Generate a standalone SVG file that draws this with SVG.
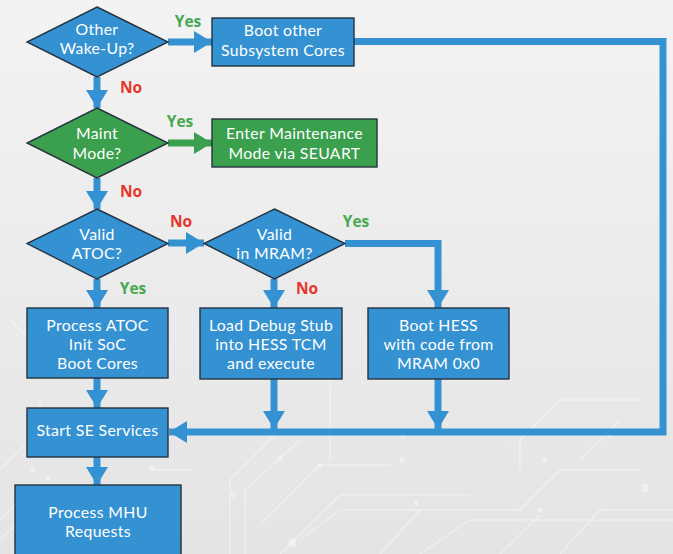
<svg xmlns="http://www.w3.org/2000/svg" width="673" height="554" viewBox="0 0 673 554">
  <defs>
    <linearGradient id="bg" x1="0" y1="0" x2="0" y2="1">
      <stop offset="0" stop-color="#f3f3f3"/>
      <stop offset="1" stop-color="#e4e4e4"/>
    </linearGradient>
    <marker id="headBlue" markerUnits="userSpaceOnUse" markerWidth="20" markerHeight="22" refX="18" refY="11" orient="auto">
      <path d="M0,0 L18,11 L0,22 Z" fill="#3592d2"/>
    </marker>
    <marker id="headGreen" markerUnits="userSpaceOnUse" markerWidth="20" markerHeight="22" refX="18" refY="11" orient="auto">
      <path d="M0,0 L18,11 L0,22 Z" fill="#3aa04e"/>
    </marker>
    <style>
      .blue { fill: #3592d2; stroke: #26333f; stroke-width: 1.4; }
      .green { fill: #3aa04e; stroke: #26333f; stroke-width: 1.4; }
      .txt { font-family: Lato, "Open Sans", sans-serif; font-size: 15.8px; letter-spacing: 0.35px; fill: #ffffff; text-anchor: middle; }
      .wire { fill: none; stroke: #3592d2; stroke-width: 7; marker-end: url(#headBlue); }
      .wireG { fill: none; stroke: #3aa04e; stroke-width: 7; marker-end: url(#headGreen); }
      .yes { font-family: "Open Sans", "Liberation Sans", sans-serif; font-weight: 700; font-size: 15.5px; fill: #4aa852; text-anchor: middle; }
      .no { font-family: "Open Sans", "Liberation Sans", sans-serif; font-weight: 700; font-size: 15.5px; fill: #e8352b; text-anchor: middle; }
      .trace { fill: none; stroke: #ffffff; stroke-opacity: 0.38; stroke-width: 1.5; }
      .pad { fill: #ffffff; fill-opacity: 0.4; }
    </style>
  </defs>

  <rect width="673" height="554" fill="url(#bg)"/>

  <!-- faint circuit traces in the background -->
  <g id="backdrop">
    <path class="trace" d="M0,470 L40,430 L40,400"/>
    <path class="trace" d="M230,554 L230,480 L280,430 L330,430"/>
    <path class="trace" d="M245,554 L245,490 L300,440"/>
    <path class="trace" d="M260,525 L320,465 L390,465"/>
    <path class="trace" d="M280,554 L340,495 L470,495"/>
    <path class="trace" d="M300,540 L340,510 L520,510 L560,470 L640,470"/>
    <path class="trace" d="M380,554 L420,510"/>
    <path class="trace" d="M420,554 L470,520 L673,520"/>
    <path class="trace" d="M500,554 L540,515"/>
    <path class="trace" d="M560,554 L600,510 L673,510"/>
    <path class="trace" d="M330,460 L330,380"/>
    <path class="trace" d="M520,470 L520,440 L560,400 L640,400"/>
    <path class="trace" d="M580,460 L620,420"/>
    <path class="trace" d="M0,520 L30,490"/>
    <path class="trace" d="M0,540 L20,520"/>
    <path class="trace" d="M150,470 L190,470"/>
    <path class="trace" d="M30,370 L30,340 L10,320"/>
    <circle class="pad" cx="280" cy="458" r="2.5"/>
    <circle class="pad" cx="233" cy="495" r="2.5"/>
    <circle class="pad" cx="320" cy="465" r="2.5"/>
    <circle class="pad" cx="402" cy="460" r="2.5"/>
    <circle class="pad" cx="292" cy="543" r="4"/>
    <circle class="pad" cx="416" cy="503" r="2.5"/>
    <circle class="pad" cx="645" cy="488" r="4"/>
    <circle class="pad" cx="540" cy="510" r="2.5"/>
    <circle class="pad" cx="545" cy="460" r="2.5"/>
    <circle class="pad" cx="33" cy="470" r="2.5"/>
    <circle class="pad" cx="48" cy="478" r="2.5"/>
    <circle class="pad" cx="152" cy="468" r="2.5"/>
    <circle class="pad" cx="403" cy="434" r="4"/>
    <circle class="pad" cx="610" cy="436" r="2.5"/>
  </g>

  <!-- connectors -->
  <g id="connectors">
    <path class="wire" d="M168,42 L212,42"/>
    <path class="wire" d="M354,41.5 L663,41.5 L663,432 L169,432"/>
    <path class="wire" d="M97,77 L97,108"/>
    <path class="wireG" d="M168,143 L212,143"/>
    <path class="wire" d="M97,178 L97,209"/>
    <path class="wire" d="M168,243 L204,243"/>
    <path class="wire" d="M97,279 L97,308"/>
    <path class="wire" d="M274,279 L274,308"/>
    <path class="wire" d="M345,243.5 L438,243.5 L438,308"/>
    <path class="wire" d="M274,379 L274,429"/>
    <path class="wire" d="M438,379 L438,429"/>
    <path class="wire" d="M97,378 L97,408"/>
    <path class="wire" d="M97,457 L97,485"/>
  </g>

  <!-- branch labels -->
  <g id="labels">
    <text class="yes" x="188" y="27">Yes</text>
    <text class="no" x="131" y="93">No</text>
    <text class="yes" x="180" y="127">Yes</text>
    <text class="no" x="131" y="197">No</text>
    <text class="no" x="181" y="227">No</text>
    <text class="yes" x="356" y="227">Yes</text>
    <text class="yes" x="133" y="294">Yes</text>
    <text class="no" x="307" y="294">No</text>
  </g>

  <g id="other-wakeup">
    <polygon class="blue" points="97,7 168,42 97,77 27,42"/>
    <text class="txt" x="97" y="35">Other</text>
    <text class="txt" x="97" y="54">Wake-Up?</text>
  </g>

  <g id="boot-other">
    <rect class="blue" x="212" y="18" width="142" height="48"/>
    <text class="txt" x="283" y="36">Boot other</text>
    <text class="txt" x="283" y="56">Subsystem Cores</text>
  </g>

  <g id="maint-mode">
    <polygon class="green" points="97,108 168,143 97,178 27,143"/>
    <text class="txt" x="97" y="139">Maint</text>
    <text class="txt" x="97" y="159">Mode?</text>
  </g>

  <g id="enter-maint">
    <rect class="green" x="212" y="119" width="165" height="48"/>
    <text class="txt" x="294.5" y="139">Enter Maintenance</text>
    <text class="txt" x="294.5" y="159">Mode via SEUART</text>
  </g>

  <g id="valid-atoc">
    <polygon class="blue" points="97,209 168,243.5 97,279 27,243.5"/>
    <text class="txt" x="97" y="240">Valid</text>
    <text class="txt" x="97" y="259">ATOC?</text>
  </g>

  <g id="valid-mram">
    <polygon class="blue" points="274.5,209 345,243.5 274.5,279 204,243.5"/>
    <text class="txt" x="274.5" y="240">Valid</text>
    <text class="txt" x="274.5" y="259">in MRAM?</text>
  </g>

  <g id="process-atoc">
    <rect class="blue" x="27" y="308" width="141" height="70"/>
    <text class="txt" x="97.5" y="331">Process ATOC</text>
    <text class="txt" x="97.5" y="350">Init SoC</text>
    <text class="txt" x="97.5" y="369">Boot Cores</text>
  </g>

  <g id="load-debug">
    <rect class="blue" x="200" y="308" width="142" height="71"/>
    <text class="txt" x="271" y="331">Load Debug Stub</text>
    <text class="txt" x="271" y="350">into HESS TCM</text>
    <text class="txt" x="271" y="369">and execute</text>
  </g>

  <g id="boot-hess">
    <rect class="blue" x="368" y="308" width="141" height="71"/>
    <text class="txt" x="438.5" y="331">Boot HESS</text>
    <text class="txt" x="438.5" y="350">with code from</text>
    <text class="txt" x="438.5" y="369">MRAM 0x0</text>
  </g>

  <g id="start-se">
    <rect class="blue" x="27" y="408" width="141" height="49"/>
    <text class="txt" x="97.5" y="436">Start SE Services</text>
  </g>

  <g id="process-mhu">
    <rect class="blue" x="15" y="485" width="166" height="80"/>
    <text class="txt" x="98" y="518">Process MHU</text>
    <text class="txt" x="98" y="537">Requests</text>
  </g>
</svg>
